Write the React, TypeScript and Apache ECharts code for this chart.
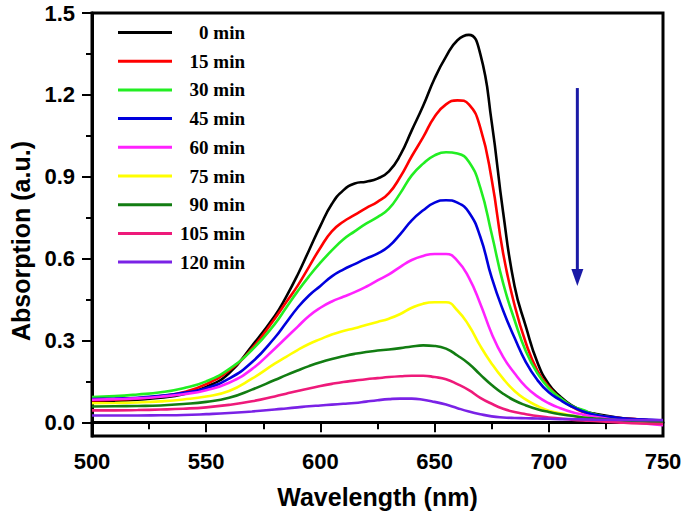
import React, { useEffect, useRef } from "react";
import * as echarts from "echarts";

const wavelengths = [500,510,520,530,540,550,560,570,580,585,590,595,600,605,610,615,620,625,630,635,640,645,650,655,660,665,670,675,680,685,690,695,700,705,710,715,720,730,740,750];

const seriesNames = ["0 min","15 min","30 min","45 min","60 min","75 min","90 min","105 min","120 min"];
const seriesColors = ["#000000","#ff0000","#22ee22","#0000dd","#ff22ff","#ffff00","#127d12","#ee1a7a","#7a22e6"];

const s0 = [0.075,0.078,0.083,0.09,0.103,0.13,0.18,0.28,0.39, 0.46,0.54,0.63,0.72,0.80,0.85,0.875,0.882,0.893,0.92, 0.98,1.07,1.16,1.26,1.34,1.40,1.42,1.35,1.10,0.77, 0.50,0.35,0.22,0.14,0.095,0.062,0.043,0.032, 0.018,0.01,0.004];
const s15 = [0.08,0.083,0.088,0.096,0.11,0.14,0.19,0.27,0.38, 0.44,0.50,0.57,0.64,0.70,0.735,0.76,0.785,0.808,0.84, 0.90,0.975,1.045,1.12,1.165,1.18,1.165,1.08,0.89,0.62, 0.43,0.29,0.19,0.13,0.088,0.058,0.038,0.028, 0.017,0.01,0.003];
const s30 = [0.093,0.096,0.102,0.11,0.125,0.15,0.195,0.265,0.36, 0.42,0.48,0.535,0.585,0.63,0.67,0.70,0.728,0.752,0.783, 0.84,0.905,0.948,0.978,0.99,0.985,0.955,0.86,0.69,0.51, 0.375,0.26,0.18,0.125,0.09,0.06,0.045,0.03, 0.015,0.006,-0.004];
const s45 = [0.085,0.087,0.09,0.097,0.108,0.125,0.16,0.22,0.31, 0.365,0.42,0.465,0.50,0.535,0.56,0.58,0.60,0.618,0.645, 0.69,0.74,0.777,0.805,0.814,0.805,0.77,0.68,0.53,0.41, 0.31,0.22,0.155,0.11,0.082,0.058,0.04,0.028, 0.017,0.011,0.007];
const s60 = [0.083,0.085,0.088,0.094,0.103,0.118,0.145,0.195,0.27, 0.31,0.35,0.39,0.42,0.443,0.46,0.477,0.497,0.52,0.542, 0.57,0.595,0.61,0.617,0.617,0.592,0.53,0.435,0.325,0.24, 0.18,0.13,0.095,0.07,0.052,0.038,0.028,0.02, 0.008,-0.002,-0.01];
const s75 = [0.07,0.071,0.073,0.077,0.084,0.095,0.115,0.16,0.215, 0.24,0.265,0.287,0.305,0.322,0.335,0.345,0.357,0.368,0.38, 0.397,0.42,0.435,0.44,0.44,0.41,0.355,0.28,0.215,0.16, 0.115,0.083,0.06,0.043,0.033,0.025,0.018,0.013, 0.005,0,-0.005];
const s90 = [0.058,0.059,0.06,0.062,0.067,0.075,0.09,0.12,0.155, 0.173,0.19,0.206,0.22,0.232,0.242,0.251,0.258,0.263,0.267, 0.272,0.278,0.282,0.28,0.27,0.245,0.215,0.175,0.137,0.105, 0.08,0.062,0.048,0.038,0.03,0.024,0.018,0.014, 0.008,0.004,0];
const s105 = [0.044,0.044,0.045,0.047,0.05,0.055,0.064,0.077,0.095, 0.105,0.115,0.124,0.133,0.141,0.148,0.153,0.158,0.162,0.166, 0.169,0.171,0.171,0.166,0.158,0.14,0.118,0.09,0.068,0.05, 0.038,0.03,0.023,0.018,0.014,0.01,0.007,0.005, 0,-0.004,-0.006];
const s120 = [0.025,0.025,0.025,0.026,0.027,0.03,0.034,0.04,0.047, 0.051,0.055,0.059,0.062,0.065,0.068,0.071,0.076,0.081,0.085, 0.087,0.087,0.083,0.075,0.065,0.052,0.04,0.03,0.022,0.018, 0.016,0.015,0.014,0.013,0.012,0.012,0.011,0.01, 0.009,0.008,0.008];

const allSeries = [s0, s15, s30, s45, s60, s75, s90, s105, s120];

const yMajorTicks = [0, 0.3, 0.6, 0.9, 1.2, 1.5];
const yMinorTicks = [0.15, 0.45, 0.75, 1.05, 1.35];

// arrow annotation in data coordinates (wavelength, absorption)
const arrowStart = [712.5, 1.225];
const arrowEnd = [712.5, 0.5];

export default function App() {
  const ref = useRef<HTMLDivElement>(null);

  useEffect(() => {
    if (!ref.current) return;
    const chart = echarts.init(ref.current, null, { renderer: "svg" });
    const labelFont = {
      color: "#000",
      fontFamily: "Liberation Sans, Arial, sans-serif",
      fontWeight: "bold" as const,
      fontSize: 22,
    };
    const yTitle = {
      type: "text",
      x: 21,
      y: 241,
      rotation: Math.PI / 2,
      style: {
        text: "Absorption (a.u.)",
        fill: "#000",
        font: "bold 25px Liberation Sans, Arial, sans-serif",
        textAlign: "center",
        textVerticalAlign: "middle",
      },
    };
    const option: any = {
      animation: false,
      backgroundColor: "#fff",
      grid: {
        left: 92,
        right: 22,
        top: 13,
        bottom: 80,
        show: true,
        borderColor: "#000",
        borderWidth: 3,
        backgroundColor: "transparent",
      },
      legend: {
        left: 118,
        top: 23,
        orient: "vertical",
        padding: 0,
        itemWidth: 54,
        itemHeight: 3,
        itemGap: 9.7,
        icon: "rect",
        data: seriesNames,
        formatter: (name: string) => `{a|${name}}`,
        textStyle: {
          rich: {
            a: {
              width: 68,
              align: "right",
              fontFamily: "Liberation Serif, Times New Roman, serif",
              fontWeight: "bold",
              fontSize: 19,
              lineHeight: 20,
              color: "#000",
            },
          },
        },
      },
      xAxis: {
        type: "value",
        min: 500,
        max: 750,
        interval: 50,
        name: "Wavelength (nm)",
        nameLocation: "middle",
        nameGap: 48,
        nameTextStyle: { ...labelFont, fontSize: 25 },
        axisLine: { show: true, lineStyle: { color: "#000", width: 3 } },
        axisTick: { show: true, length: 10, lineStyle: { color: "#000", width: 2 } },
        minorTick: { show: true, splitNumber: 2, length: 7, lineStyle: { color: "#000", width: 2 } },
        axisLabel: { ...labelFont, margin: 14 },
        splitLine: { show: false },
      },
      yAxis: [
        {
          type: "value",
          min: -0.05,
          max: 1.5,
          position: "left",
          axisLine: { show: true, lineStyle: { color: "#000", width: 3 } },
          axisTick: { show: true, length: 10, customValues: yMajorTicks, lineStyle: { color: "#000", width: 2 } },
          axisLabel: {
            ...labelFont,
            margin: 17,
            customValues: yMajorTicks,
            formatter: (v: number) => v.toFixed(1),
          },
          splitLine: { show: false },
        },
        {
          type: "value",
          min: -0.05,
          max: 1.5,
          position: "left",
          axisLine: { show: false },
          axisTick: { show: true, length: 6, customValues: yMinorTicks, lineStyle: { color: "#000", width: 2 } },
          axisLabel: { show: false },
          splitLine: { show: false },
        },
      ],
      series: allSeries.map((vals, i) => ({
        name: seriesNames[i],
        type: "line",
        yAxisIndex: 0,
        smooth: 0.5,
        symbol: "none",
        lineStyle: { width: 2.6, color: seriesColors[i] },
        itemStyle: { color: seriesColors[i] },
        data: wavelengths.map((w, j) => [w, vals[j]]),
        z: 2 + i,
      })),
      graphic: [yTitle],
    };
    chart.setOption(option);

    const p0 = chart.convertToPixel({ xAxisIndex: 0, yAxisIndex: 0 }, arrowStart) as number[];
    const p1 = chart.convertToPixel({ xAxisIndex: 0, yAxisIndex: 0 }, arrowEnd) as number[];
    if (p0 && p1) {
      const headH = 17;
      const headW = 6;
      chart.setOption({
        graphic: [
          yTitle,
          {
            type: "line",
            shape: { x1: p0[0], y1: p0[1], x2: p1[0], y2: p1[1] - headH + 2 },
            style: { stroke: "#1a1aa6", lineWidth: 3 },
            z: 100,
          },
          {
            type: "polygon",
            shape: {
              points: [
                [p1[0] - headW, p1[1] - headH],
                [p1[0] + headW, p1[1] - headH],
                [p1[0], p1[1]],
              ],
            },
            style: { fill: "#1a1aa6" },
            z: 100,
          },
        ],
      });
    }

    return () => chart.dispose();
  }, []);

  return (
    <div
      ref={ref}
      style={{ position: "absolute", left: 0, top: 0, width: 685, height: 516 }}
    />
  );
}
